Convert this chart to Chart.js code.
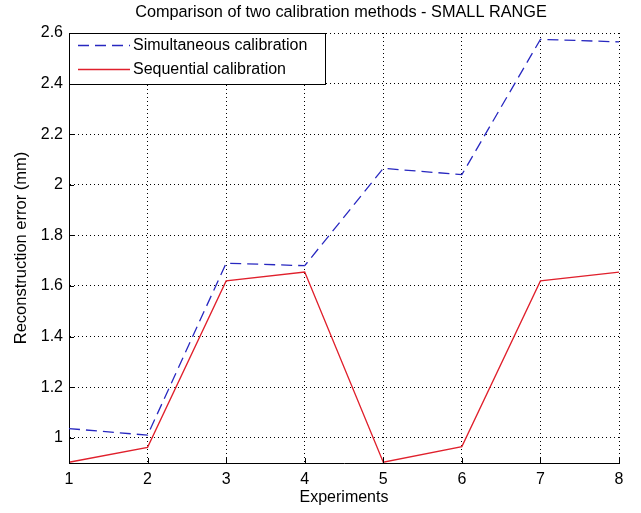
<!DOCTYPE html>
<html>
<head>
<meta charset="utf-8">
<script src="https://cdn.jsdelivr.net/npm/chart.js@4.4.1/dist/chart.umd.min.js"></script>
<style>
  body { margin: 0; background: #fff; }
</style>
</head>
<body>
<canvas id="calibChart" width="641" height="513"></canvas>
<script>
const experiments = ["1", "2", "3", "4", "5", "6", "7", "8"];
const simultaneous = [1.036, 1.01, 1.69, 1.68, 2.065, 2.04, 2.575, 2.565];
const sequential = [0.903, 0.962, 1.62, 1.655, 0.903, 0.965, 1.62, 1.655];
const yTicks = [1, 1.2, 1.4, 1.6, 1.8, 2, 2.2, 2.4, 2.6];

const FONT = "'Liberation Sans', Arial, sans-serif";

// title drawn above the plot, MATLAB style
const titlePlugin = {
  id: "titlePlugin",
  afterDraw(chart) {
    const ctx = chart.ctx;
    const a = chart.chartArea;
    ctx.save();
    ctx.fillStyle = "#000";
    ctx.font = "16.3px " + FONT;
    ctx.textAlign = "center";
    ctx.textBaseline = "middle";
    ctx.fillText("Comparison of two calibration methods - SMALL RANGE", (a.left + a.right) / 2 - 3, 13);
    ctx.restore();
  }
};

// small ticks pointing into the plot
const innerTicks = {
  id: "innerTicks",
  afterDraw(chart) {
    const ctx = chart.ctx;
    const a = chart.chartArea;
    const xs = chart.scales.x, ys = chart.scales.y;
    ctx.save();
    ctx.strokeStyle = "#000";
    ctx.lineWidth = 1;
    ctx.beginPath();
    experiments.forEach((e, i) => {
      const px = Math.round(xs.getPixelForValue(i)) + 0.5;
      ctx.moveTo(px, a.bottom);
      ctx.lineTo(px, a.bottom - 5);
    });
    yTicks.forEach(v => {
      const py = Math.round(ys.getPixelForValue(v)) + 0.5;
      ctx.moveTo(a.left, py);
      ctx.lineTo(a.left + 5, py);
    });
    ctx.stroke();
    ctx.restore();
  }
};

// boxed legend in the top-left corner of the plot
const boxLegend = {
  id: "boxLegend",
  afterDatasetsDraw(chart) {
    const ctx = chart.ctx;
    const a = chart.chartArea;
    const x0 = a.left, y0 = a.top, w = 256, h = 51;
    ctx.save();
    ctx.fillStyle = "#fff";
    ctx.fillRect(x0, y0, w, h);
    ctx.strokeStyle = "#000";
    ctx.lineWidth = 1;
    ctx.strokeRect(x0 + 0.5, y0 + 0.5, w, h);
    ctx.font = "16px " + FONT;
    ctx.textBaseline = "middle";
    chart.data.datasets.forEach((ds, i) => {
      const ly = y0 + 12.5 + i * 24;
      ctx.strokeStyle = ds.borderColor;
      ctx.lineWidth = ds.borderWidth;
      ctx.setLineDash(ds.borderDash || []);
      ctx.beginPath();
      ctx.moveTo(x0 + 9, ly);
      ctx.lineTo(x0 + 61, ly);
      ctx.stroke();
      ctx.setLineDash([]);
      ctx.fillStyle = "#000";
      ctx.fillText(ds.label, x0 + 64, ly);
    });
    ctx.restore();
  }
};

new Chart(document.getElementById("calibChart"), {
  type: "line",
  data: {
    labels: experiments,
    datasets: [
      {
        label: "Simultaneous calibration",
        data: simultaneous,
        borderColor: "#2828c0",
        borderWidth: 1.3,
        borderDash: [11, 6],
        pointRadius: 0,
        tension: 0,
        fill: false
      },
      {
        label: "Sequential calibration",
        data: sequential,
        borderColor: "#e0202c",
        borderWidth: 1.3,
        pointRadius: 0,
        tension: 0,
        fill: false
      }
    ]
  },
  options: {
    responsive: false,
    animation: false,
    layout: { padding: { top: 33, right: 22, left: 0, bottom: 0 } },
    plugins: {
      legend: { display: false },
      title: { display: false },
      tooltip: { enabled: false }
    },
    scales: {
      x: {
        type: "category",
        offset: false,
        grid: { color: "#000", lineWidth: 1, drawTicks: false },
        border: { display: true, color: "#000", width: 1, dash: [1, 3] },
        ticks: { color: "#000", font: { family: FONT, size: 16 }, padding: 7, maxRotation: 0 },
        title: {
          display: true, text: "Experiments", color: "#000",
          font: { family: FONT, size: 16 }, padding: { top: 0, bottom: 6 }
        },
        afterFit(scale) { scale.height = 50; }
      },
      y: {
        min: 0.9,
        max: 2.6,
        grid: { color: "#000", lineWidth: 1, drawTicks: false },
        border: { display: true, color: "#000", width: 1, dash: [1, 3] },
        afterBuildTicks(scale) { scale.ticks = yTicks.map(v => ({ value: v })); },
        ticks: {
          color: "#000", font: { family: FONT, size: 16 }, padding: 6,
          callback: v => String(Math.round(v * 10) / 10)
        },
        title: {
          display: true, text: "Reconstruction error (mm)", color: "#000",
          font: { family: FONT, size: 16.5 }, padding: { top: 12, bottom: 0 }
        },
        afterFit(scale) { scale.width = 69; }
      }
    }
  },
  plugins: [titlePlugin, innerTicks, boxLegend]
});
</script>
</body>
</html>
